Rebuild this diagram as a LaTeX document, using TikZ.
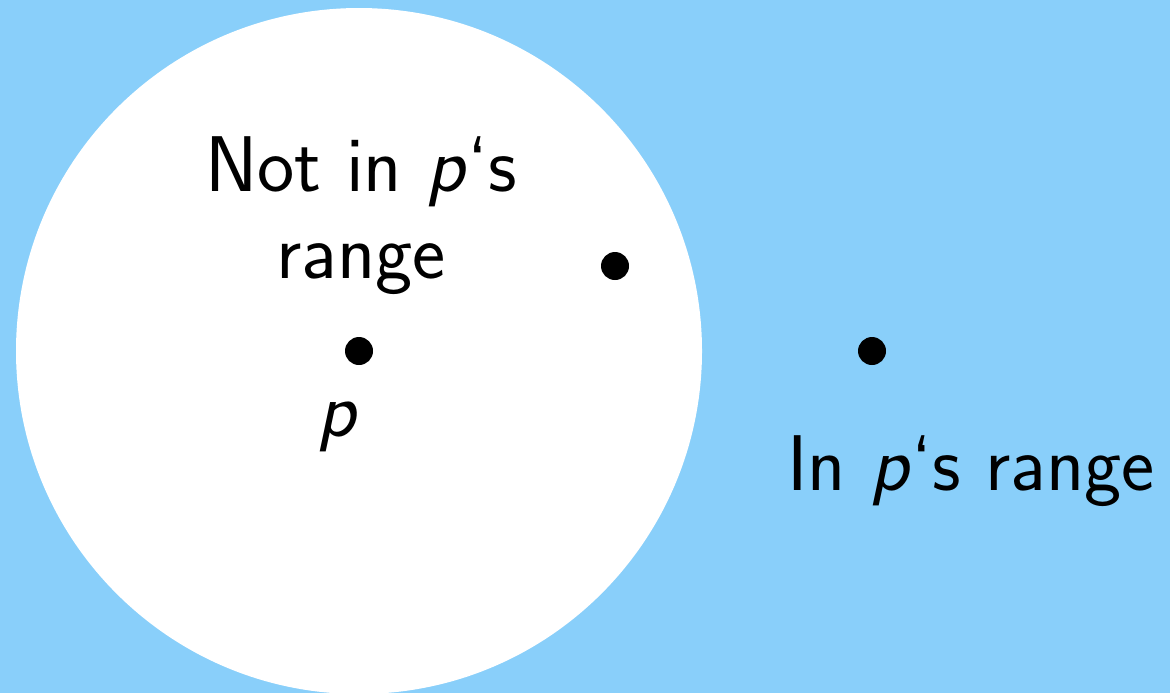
\documentclass[tikz,border=0pt]{standalone}
\usepackage{fontspec}
\definecolor{skyb}{RGB}{137,207,250}
\begin{document}
\begin{tikzpicture}[x=0.5pt,y=-0.5pt,
  lbl/.style={font=\sffamily\fontsize{39.5}{47}\selectfont, anchor=base, inner sep=0pt, align=center},
  pt/.style={circle, fill=black, inner sep=0pt, minimum size=14pt}]
\useasboundingbox (0,0) rectangle (1170,693);
\clip (0,0) rectangle (1170,693);
\fill[skyb] (0,0) rectangle (1170,693);
\fill[white] (359,351) circle[radius=343*0.5pt];
\node[pt] (p) at (359,351) {};
\node[pt] (q) at (615,266) {};
\node[pt] (r) at (872,351) {};
\node[lbl] (t1) at (361,191) {Not in \textsl{p}`s};
\node[lbl] (t2) at (361,278) {range};
\node[lbl] (pl) at (338,436) {\textsl{p}};
\node[lbl] (t3) at (971,490) {In \textsl{p}`s range};
\end{tikzpicture}
\end{document}
